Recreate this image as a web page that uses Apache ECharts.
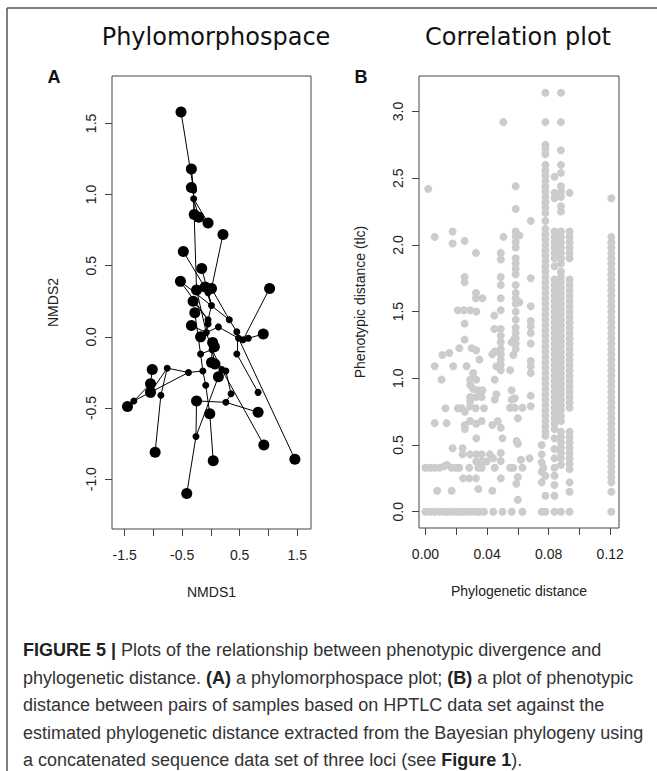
<!DOCTYPE html>
<html>
<head>
<meta charset="utf-8">
<script src="https://cdn.jsdelivr.net/npm/echarts@6/dist/echarts.min.js"></script>
<style>
  html, body { margin: 0; padding: 0; background: #fff; }
  #chart { width: 657px; height: 771px; }
</style>
</head>
<body>
<div id="chart"></div>
<script>
// ---- panel A: phylomorphospace nodes (NMDS1, NMDS2), tip = 1 for sampled taxa
const nodeX = [-0.52, -0.34, -0.34, -0.30, -0.30, -0.29, -0.21, -0.05, 0.21, -0.48,
  -0.16, -0.53, 1.02, -0.10, -0.25, 0.01, -0.05, -0.31, 0.01, -0.28,
  0.32, -0.05, -0.34, -0.05, 0.13, 0.45, 0.91, -0.08, -0.18, 0.48,
  0.56, 0.65, 0.03, 0.06, 0.02, -0.18, 0.45, 0.01, 0.07, 0.19,
  0.26, -0.14, -0.39, 0.13, -0.76, -1.02, -1.05, -1.05, -0.87, -1.34,
  -1.45, -0.09, -0.25, 0.26, 0.35, 0.82, -0.02, 0.82, -0.26, -0.97,
  0.92, 0.04, 1.46, -0.42]
const nodeY = [1.58, 1.18, 1.05, 1.03, 0.97, 0.86, 0.84, 0.80, 0.72, 0.60,
  0.48, 0.39, 0.34, 0.35, 0.33, 0.34, 0.31, 0.25, 0.22, 0.17,
  0.12, 0.12, 0.08, 0.09, 0.07, 0.035, 0.02, 0.03, 0.00, -0.01,
  -0.02, -0.01, -0.04, -0.07, -0.09, -0.12, -0.12, -0.18, -0.19, -0.23,
  -0.24, -0.24, -0.25, -0.28, -0.22, -0.23, -0.33, -0.39, -0.41, -0.45,
  -0.49, -0.34, -0.45, -0.46, -0.40, -0.39, -0.54, -0.53, -0.70, -0.81,
  -0.76, -0.87, -0.86, -1.10]
const nodeTip = [1, 1, 1, 0, 0, 1, 1, 1, 1, 1,
  1, 1, 1, 1, 1, 1, 0, 1, 0, 1,
  0, 0, 1, 0, 0, 0, 1, 0, 1, 0,
  0, 0, 1, 1, 0, 0, 0, 1, 1, 0,
  0, 0, 0, 1, 0, 1, 1, 1, 0, 0,
  1, 0, 1, 0, 0, 0, 1, 1, 0, 1,
  1, 1, 1, 1]
// branches (node index pairs)
const edgeFrom = [0, 1, 2, 3, 4, 4, 4, 4, 8, 15, 9, 16, 13, 10, 11, 11, 17, 18, 21, 14,
  22, 19, 23, 27, 27, 24, 20, 25, 29, 30, 31, 12, 27, 34, 34, 34, 34, 34, 35, 35,
  29, 25, 36, 39, 39, 40, 39, 41, 41, 51, 56, 42, 49, 49, 46, 47, 44, 48, 42, 63,
  58, 58, 52, 53, 54]
const edgeTo = [3, 3, 3, 4, 5, 6, 7, 14, 15, 20, 16, 18, 18, 18, 21, 20, 21, 21, 27, 27,
  27, 35, 27, 28, 24, 29, 25, 29, 30, 31, 26, 30, 34, 32, 33, 37, 38, 39, 34, 41,
  62, 36, 55, 43, 40, 54, 60, 42, 51, 56, 61, 49, 50, 46, 45, 44, 48, 59, 44, 58,
  52, 43, 53, 57, 53]

// ---- panel B: phylogenetic vs phenotypic distance
// isolated pairs [phylogenetic, phenotypic]
const loosePts = [
  [0.000, 0], [0.003, 0], [0.006, 0], [0.009, 0], [0.012, 0], [0.014, 0], [0.017, 0], [0.020, 0],
  [0.022, 0], [0.0245, 0], [0.027, 0], [0.030, 0], [0.033, 0], [0.035, 0], [0.038, 0], [0.044, 0],
  [0.050, 0], [0.056, 0], [0.063, 0], [0.0755, 0],
  [0.000, 0.33], [0.003, 0.33], [0.006, 0.33], [0.009, 0.33], [0.012, 0.34], [0.014, 0.35],
  [0.017, 0.33], [0.020, 0.33], [0.022, 0.33], [0.0284, 0.33], [0.0343, 0.33], [0.0365, 0.33],
  [0.045, 0.33], [0.055, 0.33], [0.057, 0.33], [0.063, 0.33], [0.0766, 0.33],
  [0.0018, 2.42], [0.006, 2.06], [0.0176, 2.10], [0.0176, 2.01], [0.0254, 2.03], [0.0254, 1.76],
  [0.0254, 1.72], [0.0328, 1.94], [0.0328, 1.64], [0.0328, 1.60], [0.037, 1.60], [0.021, 1.51],
  [0.025, 1.51], [0.029, 1.51], [0.033, 1.50], [0.0254, 1.41], [0.0447, 1.47], [0.0447, 1.37],
  [0.0506, 2.92], [0.0506, 2.06], [0.061, 2.07], [0.061, 1.57], [0.0684, 2.18], [0.0684, 1.75],
  [0.0684, 1.54], [0.0684, 1.43], [0.0684, 1.39], [0.0684, 1.34], [0.0684, 1.26], [0.0684, 1.13],
  [0.0684, 1.09], [0.0684, 1.04], [0.0684, 0.87], [0.0684, 0.79], [0.0676, 0.40],
  [0.0254, 1.29], [0.022, 1.225], [0.030, 1.225], [0.033, 1.21], [0.011, 1.175], [0.0155, 1.19],
  [0.006, 1.09], [0.018, 1.09], [0.0267, 1.09], [0.0104, 0.99], [0.033, 0.99], [0.035, 1.14],
  [0.031, 1.04], [0.029, 0.99], [0.029, 0.95], [0.031, 0.92], [0.0343, 0.91], [0.037, 0.91],
  [0.029, 0.86], [0.033, 0.86], [0.0365, 0.86], [0.029, 0.83], [0.029, 0.79], [0.0326, 0.776],
  [0.013, 0.776], [0.021, 0.776], [0.0234, 0.776], [0.0256, 0.75], [0.038, 0.776], [0.006, 0.664],
  [0.0137, 0.664], [0.0256, 0.65], [0.0256, 0.62], [0.029, 0.68], [0.033, 0.66], [0.0365, 0.68],
  [0.0176, 0.476], [0.0241, 0.476], [0.0241, 0.43], [0.029, 0.43], [0.033, 0.43], [0.0365, 0.43],
  [0.033, 0.377], [0.0365, 0.377], [0.0397, 0.377], [0.033, 0.55], [0.0418, 0.43], [0.044, 0.40],
  [0.0489, 0.44], [0.0489, 0.38], [0.0245, 0.25], [0.0284, 0.25], [0.0328, 0.25], [0.0489, 0.25],
  [0.059, 0.21], [0.060, 0.26], [0.062, 0.39], [0.060, 0.09], [0.0076, 0.157], [0.017, 0.157],
  [0.0343, 0.17], [0.0434, 0.157], [0.0434, 0.65], [0.0489, 0.63], [0.047, 0.68], [0.050, 0.55],
  [0.0592, 0.53], [0.060, 0.51], [0.060, 0.70], [0.058, 0.85], [0.056, 0.91], [0.056, 0.84],
  [0.055, 0.78], [0.058, 0.78], [0.063, 0.78], [0.055, 1.06], [0.057, 1.175], [0.045, 0.84],
  [0.046, 0.88], [0.045, 0.99], [0.046, 1.09], [0.045, 1.20], [0.0434, 1.18], [0.058, 1.30],
  [0.056, 1.27]
]
// stacked columns of pairs sharing the same phylogenetic distance
const colX = [0.0489, 0.0586, 0.0755, 0.0779, 0.0838, 0.0880, 0.0936, 0.1207]
const colY = [
  [1.94, 1.89, 1.76, 1.70, 1.60, 1.51, 1.37, 1.32, 1.27, 1.22, 1.18, 1.14, 1.10, 1.06],
  [2.44, 2.27, 2.10, 2.06, 2.02, 1.98, 1.90, 1.86, 1.82, 1.78, 1.70, 1.64, 1.60, 1.56, 1.50,
    1.44, 1.38, 1.34, 1.30, 1.26, 1.22],
  [0.50, 0.43, 0.37, 0.30, 0.22],
  [3.14, 2.92, 2.75, 2.72, 2.68, 2.60, 2.56, 2.52, 2.48, 2.44, 2.40, 2.36, 2.32, 2.28, 2.24,
    2.18, 2.12, 2.08, 2.04, 2.00, 1.96, 1.92, 1.88, 1.84, 1.80, 1.76, 1.72, 1.68, 1.64, 1.60,
    1.56, 1.52, 1.48, 1.44, 1.40, 1.36, 1.32, 1.28, 1.24, 1.20, 1.16, 1.12, 1.08, 1.04, 1.00,
    0.96, 0.92, 0.88, 0.84, 0.80, 0.76, 0.72, 0.68, 0.64, 0.60, 0.57, 0.27, 0.12, 0.0],
  [2.51, 2.39, 2.35, 2.10, 2.06, 2.02, 1.98, 1.94, 1.90, 1.84, 1.74, 1.70, 1.66, 1.62, 1.58,
    1.54, 1.50, 1.46, 1.42, 1.38, 1.34, 1.30, 1.26, 1.22, 1.18, 1.14, 1.10, 1.06, 1.02, 0.98,
    0.94, 0.90, 0.86, 0.82, 0.78, 0.74, 0.70, 0.66, 0.62, 0.55, 0.47, 0.40, 0.33, 0.27, 0.20,
    0.12, 0.0],
  [3.14, 2.92, 2.71, 2.60, 2.54, 2.44, 2.40, 2.36, 2.29, 2.25, 2.10, 2.06, 2.02, 1.98, 1.94,
    1.90, 1.86, 1.80, 1.76, 1.72, 1.68, 1.64, 1.60, 1.56, 1.52, 1.48, 1.44, 1.40, 1.36, 1.32,
    1.28, 1.24, 1.20, 1.16, 1.12, 1.08, 1.04, 1.00, 0.96, 0.92, 0.88, 0.84, 0.80, 0.76, 0.72,
    0.68, 0.60, 0.56, 0.52, 0.48, 0.44, 0.40, 0.35, 0.0],
  [2.39, 2.10, 2.06, 2.02, 1.98, 1.94, 1.90, 1.74, 1.70, 1.66, 1.62, 1.58, 1.54, 1.50, 1.46,
    1.42, 1.38, 1.34, 1.30, 1.26, 1.22, 1.18, 1.14, 1.10, 1.06, 1.02, 0.98, 0.94, 0.90, 0.86,
    0.82, 0.78, 0.60, 0.56, 0.52, 0.48, 0.44, 0.40, 0.36, 0.32, 0.22, 0.15, 0.0],
  [2.35, 2.06, 2.02, 1.98, 1.94, 1.90, 1.86, 1.82, 1.78, 1.74, 1.70, 1.66, 1.62, 1.58, 1.54,
    1.50, 1.46, 1.42, 1.38, 1.34, 1.30, 1.26, 1.22, 1.18, 1.14, 1.10, 1.06, 1.02, 0.98, 0.94,
    0.90, 0.86, 0.82, 0.78, 0.74, 0.70, 0.66, 0.62, 0.58, 0.54, 0.50, 0.46, 0.42, 0.38, 0.34,
    0.30, 0.26, 0.22, 0.15, 0.0]
]

// ---- ticks
const aTicksX = [-1.5, -1, -0.5, 0, 0.5, 1, 1.5]
const aLabelsX = [-1.5, -0.5, 0.5, 1.5]
const aTicksY = [-1, -0.5, 0, 0.5, 1, 1.5]
const bTicksX = [0, 0.02, 0.04, 0.06, 0.08, 0.10, 0.12]
const bLabelsX = [0, 0.04, 0.08, 0.12]
const bTicksY = [0, 0.5, 1, 1.5, 2, 2.5, 3]

const captionLines = [
  '{b|FIGURE 5 |} Plots of the relationship between phenotypic divergence and',
  'phylogenetic distance. {b|(A)} a phylomorphospace plot; {b|(B)} a plot of phenotypic',
  'distance between pairs of samples based on HPTLC data set against the',
  'estimated phylogenetic distance extracted from the Bayesian phylogeny using',
  'a concatenated sequence data set of three loci (see {b|Figure 1}).'
]

const scatterB = loosePts.slice()
colX.forEach((x, i) => colY[i].forEach((y) => scatterB.push([x, y])))

const axisFont = { fontFamily: 'Liberation Sans', fontSize: 14, color: '#222' }
const frame = '#444'

function makeAxis(grid, min, max, ticks, labels, digits, name, isY) {
  return {
    type: 'value',
    gridIndex: grid,
    min: min,
    max: max,
    name: name,
    nameLocation: 'middle',
    nameGap: isY ? 52 : 56,
    nameRotate: isY ? 90 : 0,
    nameTextStyle: axisFont,
    axisLine: { show: false, onZero: false },
    splitLine: { show: false },
    axisTick: { show: true, length: 7, customValues: ticks, lineStyle: { color: frame, width: 1 } },
    axisLabel: {
      ...axisFont,
      customValues: labels,
      rotate: isY ? 90 : 0,
      margin: isY ? 14 : 19,
      formatter: (v) => v.toFixed(digits),
    },
  }
}

const chart = echarts.init(document.getElementById('chart'), null, { renderer: 'svg' })

const caption = captionLines.map((t, i) => ({
  type: 'text',
  x: 23,
  y: 650 + i * 27.5,
  style: {
    text: t,
    fontFamily: 'Liberation Sans',
    fontSize: 18,
    fill: '#333',
    verticalAlign: 'middle',
    rich: { b: { fontFamily: 'Liberation Sans', fontSize: 18, fontWeight: 'bold', fill: '#222' } },
  },
}))

chart.setOption({
  animation: false,
  backgroundColor: '#fff',
  grid: [
    { left: 112, top: 76, width: 199, height: 453, show: true, borderColor: frame, borderWidth: 1 },
    { left: 419, top: 76, width: 200, height: 452, show: true, borderColor: frame, borderWidth: 1 },
  ],
  xAxis: [
    makeAxis(0, -1.72, 1.74, aTicksX, aLabelsX, 1, 'NMDS1', false),
    makeAxis(1, -0.0042, 0.1257, bTicksX, bLabelsX, 2, 'Phylogenetic distance', false),
  ],
  yAxis: [
    makeAxis(0, -1.35, 1.833, aTicksY, aTicksY, 1, 'NMDS2', true),
    makeAxis(1, -0.122, 3.266, bTicksY, bTicksY, 1, 'Phenotypic distance (tlc)', true),
  ],
  series: [
    {
      type: 'graph',
      coordinateSystem: 'cartesian2d',
      xAxisIndex: 0,
      yAxisIndex: 0,
      layout: 'none',
      symbol: 'circle',
      silent: true,
      data: nodeX.map((x, i) => ({ value: [x, nodeY[i]], symbolSize: nodeTip[i] ? 11 : 7 })),
      links: edgeFrom.map((s, i) => ({ source: s, target: edgeTo[i] })),
      itemStyle: { color: '#000' },
      lineStyle: { color: '#000', width: 1, opacity: 1 },
      label: { show: false },
    },
    {
      type: 'scatter',
      xAxisIndex: 1,
      yAxisIndex: 1,
      symbolSize: 8,
      silent: true,
      itemStyle: { color: '#cccccc', opacity: 1 },
      data: scatterB,
    },
  ],
  graphic: [
    { type: 'line', shape: { x1: 7, y1: 8, x2: 657, y2: 8 }, style: { stroke: '#555', lineWidth: 1.5 } },
    { type: 'line', shape: { x1: 7, y1: 8, x2: 7, y2: 771 }, style: { stroke: '#555', lineWidth: 1.5 } },
    { type: 'text', x: 216, y: 37, style: { text: 'Phylomorphospace', fontFamily: 'DejaVu Sans', fontSize: 24, fill: '#111', align: 'center', verticalAlign: 'middle' } },
    { type: 'text', x: 518, y: 37, style: { text: 'Correlation plot', fontFamily: 'DejaVu Sans', fontSize: 24, fill: '#111', align: 'center', verticalAlign: 'middle' } },
    { type: 'text', x: 54, y: 77, style: { text: 'A', fontFamily: 'Liberation Sans', fontSize: 18, fontWeight: 'bold', fill: '#111', align: 'center', verticalAlign: 'middle' } },
    { type: 'text', x: 361, y: 77, style: { text: 'B', fontFamily: 'Liberation Sans', fontSize: 18, fontWeight: 'bold', fill: '#111', align: 'center', verticalAlign: 'middle' } },
    ...caption,
  ],
})
</script>
</body>
</html>
